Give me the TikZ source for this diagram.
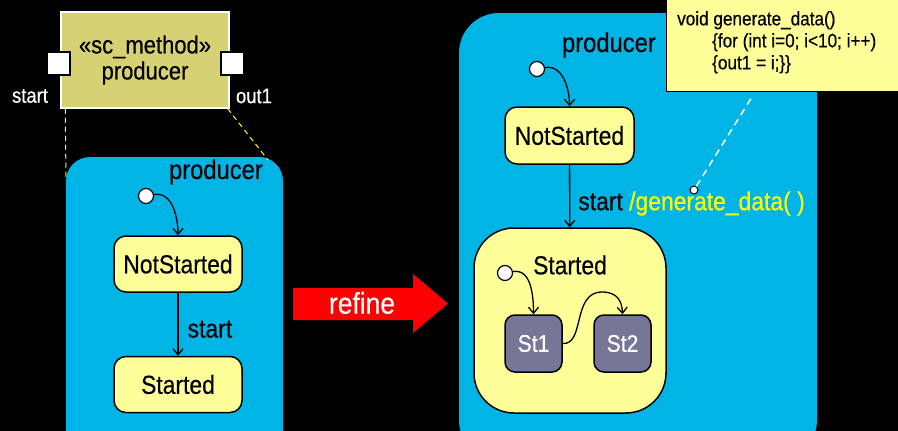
\documentclass[tikz,border=0pt]{standalone}
\usepackage{fontspec}
\setmainfont{Liberation Sans}[FakeStretch=0.88, FakeBold=0.4]
\usepackage{tikz}
\usetikzlibrary{arrows.meta, positioning}
\definecolor{skyblue}{RGB}{0,181,230}
\definecolor{paleyellow}{RGB}{255,255,153}
\definecolor{olive}{RGB}{214,209,114}
\definecolor{slate}{RGB}{118,118,150}
\definecolor{actionyellow}{RGB}{255,255,0}

\begin{document}
\begin{tikzpicture}[
    x=1pt, y=-1pt,
    region/.style={fill=skyblue},
    comp/.style={rectangle, draw=white, fill=olive, line width=1.5pt, minimum width=168pt, minimum height=96pt, align=center, font=\fontsize{25}{26}\selectfont},
    port/.style={rectangle, draw=black, fill=white, line width=1.5pt, minimum size=23pt, inner sep=0pt},
    portlabel/.style={text=white, inner sep=0pt, font=\fontsize{21}{24}\selectfont},
    state/.style={rectangle, draw=black, fill=paleyellow, line width=1.5pt, rounded corners=12pt, minimum width=128pt, minimum height=56pt, inner sep=0pt, font=\fontsize{26}{28}\selectfont},
    substate/.style={rectangle, draw=black, fill=slate, text=white, line width=1.5pt, rounded corners=10pt, minimum size=57pt, inner sep=0pt, font=\fontsize{24}{28}\selectfont},
    init/.style={circle, draw=black, fill=white, line width=1.2pt, minimum size=15pt, inner sep=0pt},
    lbl/.style={inner sep=0pt, font=\fontsize{26}{28}\selectfont},
    trans/.style={-{Straight Barb[length=6pt, width=10pt]}, line width=1.3pt},
    note/.style={rectangle, draw=black, fill=paleyellow, line width=1.2pt},
    notelink/.style={draw=white, dashed, dash pattern=on 7pt off 5pt, line width=1.5pt},
    trace/.style={draw=actionyellow, dashed, dash pattern=on 5pt off 4pt, line width=1pt}
]
    \useasboundingbox (0,0) rectangle (898,431);
    \clip (0,0) rectangle (898,431);
    \fill[black] (0,0) rectangle (898,431);

    % Component
    \node[comp] (comp) at (145,60) {«sc\_method»\\producer};
    \node[port] (pstart) at (58.5,63.5) {};
    \node[port] (pout) at (232.5,63.5) {};
    \node[portlabel] (lstart) at (30,96) {start};
    \node[portlabel] (lout) at (254,96) {out1};

    % Left region
    \fill[region, rounded corners=24pt] (66,157) rectangle (283,460);
    \coordinate (ltl) at (66,180);
    \coordinate (ltr) at (268,160);
    \draw[trace] (comp.south west) ++(5,0) -- (ltl);
    \draw[trace] (comp.south east) ++(-2,0) -- (ltr);
    \node[lbl, anchor=east, font=\fontsize{27}{28}\selectfont] (lprod) at (263,172) {producer};
    \node[init] (li) at (146,196) {};
    \node[state] (lns) at (178,264) {NotStarted};
    \node[state] (lst) at (178,384.5) {Started};
    \draw[trans] (li) to[out=10, in=90] (lns.north);
    \draw[trans] (lns) -- node[lbl, right=9pt, pos=0.58] {start} (lst);

    % Refine
    \fill[red] (293,288) -- (413,288) -- (413,274) -- (448,303.5) -- (413,333) -- (413,320) -- (293,320) -- cycle;
    \node[lbl, text=white, font=\fontsize{30}{32}\selectfont] (refine) at (362,303) {refine};

    % Right region
    \fill[region, rounded corners=40pt] (459,13) rectangle (817,460);
    \node[lbl, anchor=east, font=\fontsize{27}{28}\selectfont] (rprod) at (656,45) {producer};
    \node[init] (ri) at (537,69) {};
    \node[state, minimum width=129pt, minimum height=57pt] (rns) at (569.5,135.5) {NotStarted};
    \node[state, minimum width=192pt, minimum height=185pt, rounded corners=40pt] (rst) at (570,320.5) {};
    \node[lbl] (rstl) at (570,265) {Started};
    \draw[trans] (ri) to[out=10, in=90] (rns.north);
    \draw[trans] (rns) -- node[lbl, anchor=west, pos=0.62, xshift=8pt] (act) {start {\color{actionyellow}/generate\_data( )}} (rst);

    % Substates
    \node[init] (si) at (505,273) {};
    \node[substate] (s1) at (533.5,343.5) {St1};
    \node[substate] (s2) at (622.5,343.5) {St2};
    \draw[trans] (si) to[out=10, in=90] (s1.north);
    \draw[trans] (s1.east) .. controls (585,345) and (572,292) .. (602,292) .. controls (618,292) and (622,302) .. (s2.north);

    % Note
    \node[note, anchor=south west, minimum width=260pt, minimum height=110pt] (note) at (666,92) {};
    \node[inner sep=0pt, anchor=north west, align=left, font=\fontsize{19.5}{22}\selectfont] (code) at (677,11)
        {void generate\_data()\\
         \hspace*{35pt}\{for (int i=0; i<10; i++)\\
         \hspace*{35pt}\{out1 = i;\}\}};
    \coordinate (nl) at (752,97);
    \node[circle, draw=black, fill=white, line width=1pt, minimum size=8pt, inner sep=0pt] (dot) at (694,190) {};
    \draw[notelink] (dot) -- (nl);
\end{tikzpicture}
\end{document}
